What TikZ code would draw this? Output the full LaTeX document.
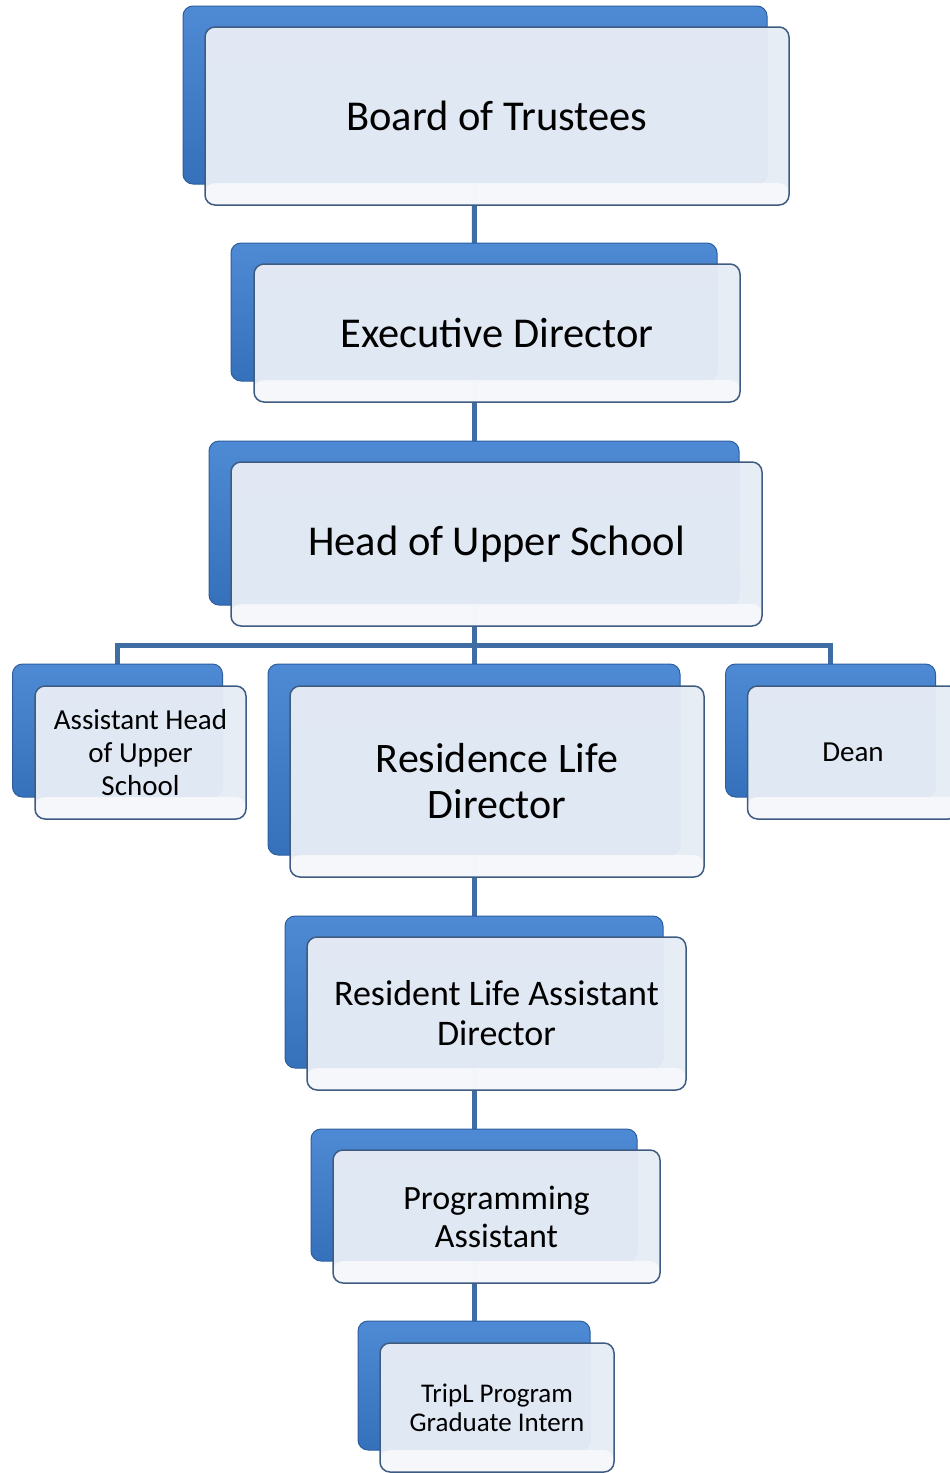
\documentclass[tikz,border=0pt]{standalone}
\usepackage{fontspec}
\setmainfont{Carlito}
\pgfdeclarelayer{bg}
\pgfsetlayers{bg,main}
\definecolor{boxblue}{HTML}{3B7DD0}
\definecolor{boxdark}{HTML}{2C5E9E}
\definecolor{facefill}{HTML}{E6ECF5}
\definecolor{faceline}{HTML}{3E5C82}
\definecolor{linkblue}{HTML}{3F6DA3}
\tikzset{
  back/.style={rounded corners=10pt, draw=boxdark, line width=1pt,
    top color=boxblue!90!white, bottom color=boxblue!90!black, inner sep=0pt},
  face/.style={rounded corners=10pt, draw=faceline, line width=1.5pt,
    fill=facefill, fill opacity=.97, text opacity=1, inner sep=0pt, align=center,
    path picture={\fill[white,opacity=.6] ([yshift=22pt]path picture bounding box.south west)
      rectangle (path picture bounding box.south east);}},
  link/.style={draw=linkblue, line width=5pt}
}
\begin{document}
\begin{tikzpicture}[x=1pt,y=-1pt]
            \useasboundingbox (0,0) rectangle (950,1473);
            % back boxes
            \node[back, minimum width=584pt, minimum height=178pt] (BT) at (475,95) {};
            \node[back, minimum width=486pt, minimum height=138pt] (ED) at (474,312) {};
            \node[back, minimum width=530pt, minimum height=164pt] (HUS) at (474,523) {};
            \node[back, minimum width=210pt, minimum height=133pt] (AH) at (117.5,730.5) {};
            \node[back, minimum width=412pt, minimum height=191pt] (RLD) at (474,759.5) {};
            \node[back, minimum width=210pt, minimum height=133pt] (DN) at (830.5,730.5) {};
            \node[back, minimum width=378pt, minimum height=152pt] (RLA) at (474,992) {};
            \node[back, minimum width=326pt, minimum height=132pt] (PA) at (474,1195) {};
            \node[back, minimum width=232pt, minimum height=129pt] (TI) at (474,1385.5) {};
            \coordinate (bus) at (474,645);

            % front boxes
            \node[face, minimum width=584pt, minimum height=178pt, font=\fontsize{42.5}{46}\selectfont] (BTf) at (497,116) {Board of Trustees};
            \node[face, minimum width=486pt, minimum height=138pt, font=\fontsize{42.5}{46}\selectfont] (EDf) at (497,333) {Executive Director};
            \node[face, minimum width=531pt, minimum height=164pt, font=\fontsize{42.5}{46}\selectfont] (HUSf) at (496.5,544) {Head of Upper School};
            \node[face, minimum width=211pt, minimum height=133pt, font=\fontsize{29}{33}\selectfont] (AHf) at (140.5,752.5) {Assistant Head\\of Upper\\School};
            \node[face, minimum width=414pt, minimum height=191pt, font=\fontsize{42}{46}\selectfont] (RLDf) at (497,781.5) {Residence Life\\Director};
            \node[face, minimum width=211pt, minimum height=133pt, font=\fontsize{29}{33}\selectfont] (DNf) at (853,752.5) {Dean};
            \node[face, minimum width=379pt, minimum height=153pt, font=\fontsize{36}{40}\selectfont] (RLAf) at (496.5,1013.5) {Resident Life Assistant\\Director};
            \node[face, minimum width=327pt, minimum height=133pt, font=\fontsize{34}{38}\selectfont] (PAf) at (496.5,1216.5) {Programming\\Assistant};
            \node[face, minimum width=234pt, minimum height=129pt, font=\fontsize{27}{29}\selectfont] (TIf) at (497,1407.5) {TripL Program\\Graduate Intern};

            % links
            \begin{pgfonlayer}{bg}
            \draw[link] (BT.center) -- (ED.center); \draw[link] (ED.center) -- (HUS.center);
            \draw[link] (HUS.center) -- (RLD.center);
            \draw[link] (AH.center) |- (bus) -| (DN.center);
            \draw[link] (RLD.center) -- (RLA.center); \draw[link] (RLA.center) -- (PA.center);
            \draw[link] (PA.center) -- (TI.center);
            \end{pgfonlayer}
        \end{tikzpicture}
\end{document}
